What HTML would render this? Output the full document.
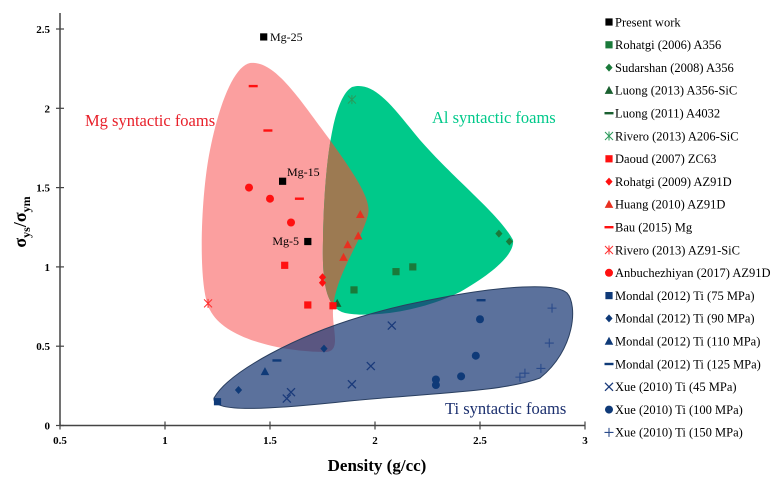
<!DOCTYPE html>
<html><head><meta charset="utf-8">
<style>
html,body{margin:0;padding:0;background:#fff;}
svg{display:block;font-family:"Liberation Serif",serif;}
</style></head>
<body>
<svg id="chart" width="776" height="484" viewBox="0 0 776 484" xmlns="http://www.w3.org/2000/svg">
<defs>
<clipPath id="pinkClip"><path d="M250,63 C275,60 300,100 330,140 C355,175 372,200 368,215 C360,245 335,275 333,310 C332,330 342,352 325,352 C285,352 225,340 210,310 C198,290 200,200 210,150 C220,100 235,66 250,63 Z"/></clipPath>
</defs>
<g id="regions">
<path fill="#fb9f9f" d="M250,63 C275,60 300,100 330,140 C355,175 372,200 368,215 C360,245 335,275 333,310 C332,330 342,352 325,352 C285,352 225,340 210,310 C198,290 200,200 210,150 C220,100 235,66 250,63 Z"/>
<path fill="#00c98a" d="M352,87 C375,80 395,110 420,140 C455,180 500,215 513,240 C515,255 490,275 460,292 C420,312 370,318 345,313 C325,308 322,280 323,240 C324,180 330,100 352,87 Z"/>
<path fill="#9c7a52" clip-path="url(#pinkClip)" d="M352,87 C375,80 395,110 420,140 C455,180 500,215 513,240 C515,255 490,275 460,292 C420,312 370,318 345,313 C325,308 322,280 323,240 C324,180 330,100 352,87 Z"/>
<path fill="rgba(28,58,118,0.72)" stroke="#2a3f60" stroke-width="1" d="M214,398 C230,370 300,335 360,317 C400,305 420,302 450,296 C500,287 555,282 567,293 C578,305 575,350 540,378 C500,393 420,393 330,403 C260,410 212,412 214,398 Z"/>
</g>
<text x="85" y="126" fill="#e8202a" font-size="16.5">Mg syntactic foams</text>
<text x="432" y="123" fill="#00c98a" font-size="16.5">Al syntactic foams</text>
<text x="445" y="414" fill="#1b2f6e" font-size="16.5">Ti syntactic foams</text>
<g id="axes"></g>
<g id="marks"></g>
<g id="legend"></g>
<text transform="translate(26,222) rotate(-90)" text-anchor="middle" font-size="18" font-weight="bold">σ<tspan font-size="12" dy="4">ys</tspan><tspan dy="-4">/σ</tspan><tspan font-size="12" dy="4">ym</tspan></text>
<text x="377" y="471" text-anchor="middle" font-size="17" font-weight="bold">Density (g/cc)</text>
<text x="270" y="41" font-size="12">Mg-25</text>
<text x="287" y="176" font-size="12">Mg-15</text>
<text x="299" y="245" text-anchor="end" font-size="12">Mg-5</text>
</svg>
<script>
const xTicks = [0.5, 1, 1.5, 2, 2.5, 3];
const yTicks = [0, 0.5, 1, 1.5, 2, 2.5];
const xTickLabels = ["0.5", "1", "1.5", "2", "2.5", "3"];
const yTickLabels = ["0", "0.5", "1", "1.5", "2", "2.5"];
const seriesNames = ["Present work","Rohatgi (2006) A356","Sudarshan (2008) A356","Luong (2013) A356-SiC","Luong (2011) A4032","Rivero (2013) A206-SiC","Daoud (2007) ZC63","Rohatgi (2009) AZ91D","Huang (2010) AZ91D","Bau (2015) Mg","Rivero (2013) AZ91-SiC","Anbuchezhiyan (2017) AZ91D","Mondal (2012) Ti (75 MPa)","Mondal (2012) Ti (90 MPa)","Mondal (2012) Ti (110 MPa)","Mondal (2012) Ti (125 MPa)","Xue (2010) Ti (45 MPa)","Xue (2010) Ti (100 MPa)","Xue (2010) Ti (150 MPa)"];
const seriesShapes = ["square","square","diamond","triangle","dash","star","square","diamond","triangle","dash","star","circle","square","diamond","triangle","dash","cross","circle","plus"];
const seriesColors = ["#000000","#1a7a3a","#1a7a3a","#1a6030","#1a6030","#2a9a5a","#ff1010","#ff1010","#e83020","#ff1010","#ff3030","#ff1010","#0f3a78","#0f3a78","#0f3a78","#0f3a78","#1a3a7a","#0f3a78","#2a4a8a"];
const presentX = [1.47, 1.56, 1.68];
const presentY = [2.45, 1.54, 1.16];
const rohatgi2006X = [1.90, 2.10, 2.18];
const rohatgi2006Y = [0.855, 0.97, 1.00];
const sudarshanX = [2.59, 2.64];
const sudarshanY = [1.21, 1.16];
const luong2013X = [1.82];
const luong2013Y = [0.77];
const luong2011X = [];
const luong2011Y = [];
const riveroAlX = [1.89];
const riveroAlY = [2.055];
const daoudX = [1.57, 1.68, 1.80];
const daoudY = [1.01, 0.76, 0.755];
const rohatgi2009X = [1.75, 1.75];
const rohatgi2009Y = [0.935, 0.90];
const huangX = [1.93, 1.92, 1.87, 1.85];
const huangY = [1.33, 1.195, 1.14, 1.06];
const bauX = [1.42, 1.49, 1.64];
const bauY = [2.14, 1.86, 1.43];
const riveroMgX = [1.205];
const riveroMgY = [0.77];
const anbuX = [1.40, 1.50, 1.60];
const anbuY = [1.50, 1.43, 1.28];
const mondal75X = [1.25];
const mondal75Y = [0.15];
const mondal90X = [1.35, 1.757];
const mondal90Y = [0.224, 0.485];
const mondal110X = [1.476];
const mondal110Y = [0.34];
const mondal125X = [1.533, 2.505];
const mondal125Y = [0.41, 0.79];
const xue45X = [1.58, 1.60, 1.89, 1.98, 2.08];
const xue45Y = [0.17, 0.21, 0.26, 0.375, 0.63];
const xue100X = [2.29, 2.29, 2.41, 2.48, 2.50];
const xue100Y = [0.255, 0.29, 0.31, 0.44, 0.67];
const xue150X = [2.69, 2.714, 2.79, 2.83, 2.843];
const xue150Y = [0.305, 0.33, 0.36, 0.52, 0.74];
const allX = [presentX,rohatgi2006X,sudarshanX,luong2013X,luong2011X,riveroAlX,daoudX,rohatgi2009X,huangX,bauX,riveroMgX,anbuX,mondal75X,mondal90X,mondal110X,mondal125X,xue45X,xue100X,xue150X];
const allY = [presentY,rohatgi2006Y,sudarshanY,luong2013Y,luong2011Y,riveroAlY,daoudY,rohatgi2009Y,huangY,bauY,riveroMgY,anbuY,mondal75Y,mondal90Y,mondal110Y,mondal125Y,xue45Y,xue100Y,xue150Y];

const NS = "http://www.w3.org/2000/svg";
function xs(v){ return 60 + (v - 0.5) * 210; }
function ys(v){ return 425.5 - v * 158.6; }
function mk(tag, attrs, parent){
  const e = document.createElementNS(NS, tag);
  for (const k in attrs) e.setAttribute(k, attrs[k]);
  parent.appendChild(e);
  return e;
}
function marker(shape, cx, cy, color, parent){
  const g = mk('g', {}, parent);
  const s = 3.6;
  if (shape === 'square') mk('rect', {x: cx - s, y: cy - s, width: 2*s, height: 2*s, fill: color}, g);
  else if (shape === 'diamond') mk('polygon', {points: `${cx},${cy-4} ${cx+3.6},${cy} ${cx},${cy+4} ${cx-3.6},${cy}`, fill: color}, g);
  else if (shape === 'triangle') mk('polygon', {points: `${cx},${cy-4.5} ${cx+4.3},${cy+3.5} ${cx-4.3},${cy+3.5}`, fill: color}, g);
  else if (shape === 'circle') mk('circle', {cx: cx, cy: cy, r: 4, fill: color}, g);
  else if (shape === 'dash') mk('rect', {x: cx - 4.5, y: cy - 1.2, width: 9, height: 2.4, fill: color}, g);
  else if (shape === 'cross') mk('path', {d: `M${cx-4},${cy-4}L${cx+4},${cy+4}M${cx+4},${cy-4}L${cx-4},${cy+4}`, stroke: color, 'stroke-width': 1.3, fill: 'none'}, g);
  else if (shape === 'plus') mk('path', {d: `M${cx-4.5},${cy}L${cx+4.5},${cy}M${cx},${cy-4.5}L${cx},${cy+4.5}`, stroke: color, 'stroke-width': 1.1, fill: 'none'}, g);
  else if (shape === 'star') mk('path', {d: `M${cx-4},${cy-4}L${cx+4},${cy+4}M${cx+4},${cy-4}L${cx-4},${cy+4}M${cx},${cy-4.5}L${cx},${cy+4.5}`, stroke: color, 'stroke-width': 1, fill: 'none'}, g);
  return g;
}

const axes = document.getElementById('axes');
const yAxisLine = mk('line', {x1: 60, y1: 13, x2: 60, y2: ys(0), stroke: '#444', 'stroke-width': 1.5}, axes);


const xAxisLine = mk('line', {x1: 60, y1: ys(0), x2: xs(3), y2: ys(0), stroke: '#444', 'stroke-width': 1.5}, axes);


xTicks.forEach((v, i) => {
  mk('line', {x1: xs(v), y1: ys(0) - 4, x2: xs(v), y2: ys(0) + 4, stroke: '#444', 'stroke-width': 1.2}, axes);
  const t = mk('text', {x: xs(v), y: 444, 'text-anchor': 'middle', 'font-size': 11, 'font-weight': 'bold'}, axes);
  t.textContent = xTickLabels[i];
  
  
});
yTicks.forEach((v, i) => {
  mk('line', {x1: 56, y1: ys(v), x2: 64, y2: ys(v), stroke: '#444', 'stroke-width': 1.2}, axes);
  const t = mk('text', {x: 50, y: ys(v) + 4, 'text-anchor': 'end', 'font-size': 11, 'font-weight': 'bold'}, axes);
  t.textContent = yTickLabels[i];
  
  
});

const marks = document.getElementById('marks');
allX.forEach((arr, si) => {
  arr.forEach((xv, pi) => {
    const m = marker(seriesShapes[si], xs(xv), ys(allY[si][pi]), seriesColors[si], marks);
    
    
  });
});

const legend = document.getElementById('legend');
seriesNames.forEach((name, i) => {
  const cy = 22 + i * 22.8;
  const g = mk('g', {}, legend);
  
  
  marker(seriesShapes[i], 609, cy, seriesColors[i], g);
  const t = mk('text', {x: 615, y: cy + 4.3, 'font-size': 12.5}, g);
  t.textContent = name;
});
</script>
</body></html>
